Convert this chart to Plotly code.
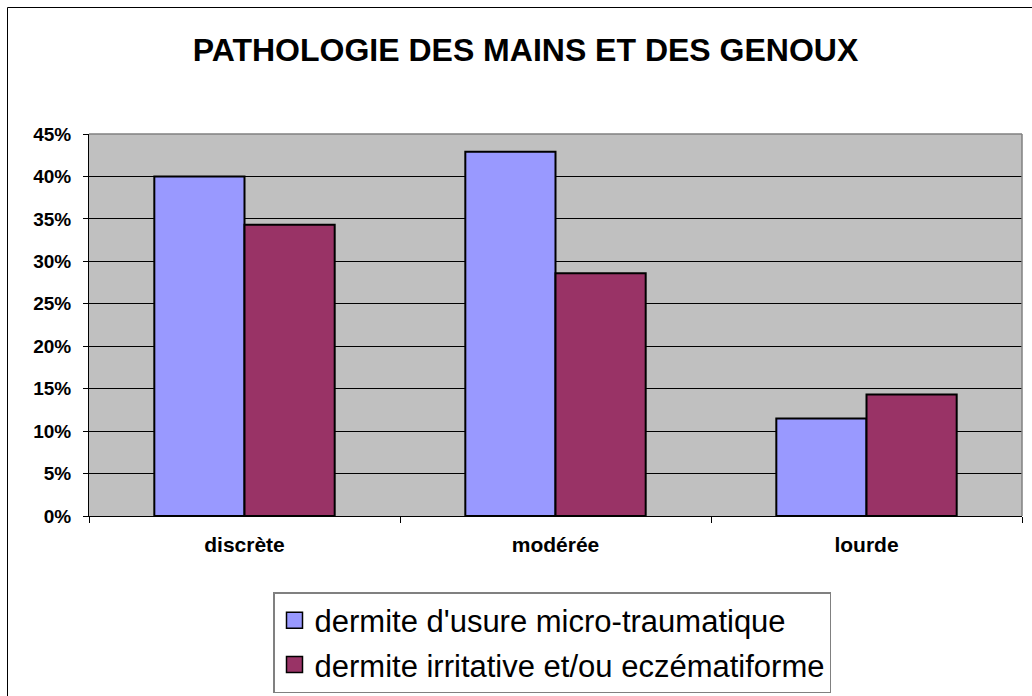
import plotly.graph_objects as go

categories = ["discrète", "modérée", "lourde"]
series_names = ["dermite d'usure micro-traumatique", "dermite irritative et/ou eczématiforme"]
usure = [0.400, 0.429, 0.115]
irritative = [0.343, 0.286, 0.143]
colors = ["#9999FF", "#993366"]
y_ticks = [0, 0.05, 0.10, 0.15, 0.20, 0.25, 0.30, 0.35, 0.40, 0.45]

FONT = "Liberation Sans, Arial, sans-serif"
W, H = 1032, 696
L, R, T, B = 89, 10, 134, 180

fig = go.Figure()
for name, vals, col, grp in zip(series_names, [usure, irritative], colors, ["a", "b"]):
    fig.add_trace(go.Bar(
        x=categories, y=vals, name=name, legendgroup=grp, showlegend=False,
        marker=dict(color=col, line=dict(color="black", width=2)),
    ))
    # legend entry with a larger square swatch
    fig.add_trace(go.Scatter(
        x=[None], y=[None], mode="markers", name=name, legendgroup=grp, showlegend=True,
        marker=dict(symbol="square", size=16, color=col, line=dict(color="black", width=1.5)),
    ))

pw = W - L - R
ph = H - T - B
def px_x(v):
    return (v - L) / pw
def px_y(v):
    return (H - B - v) / ph

shapes = [
    # outer chart frame
    dict(type="rect", xref="paper", yref="paper", x0=px_x(7.5), x1=px_x(1040), y0=px_y(710), y1=px_y(7.5),
         line=dict(color="black", width=1), layer="above"),
    # plot area top and right border
    dict(type="line", xref="paper", yref="paper", x0=0, x1=1, y0=1, y1=1, line=dict(color="#808080", width=1.5)),
    dict(type="line", xref="paper", yref="paper", x0=1, x1=1, y0=0, y1=1, line=dict(color="#808080", width=1.5)),
]

fig.update_layout(
    width=W, height=H,
    margin=dict(l=L, r=R, t=T, b=B, autoexpand=False),
    template="none",
    paper_bgcolor="white",
    plot_bgcolor="#C0C0C0",
    font=dict(family=FONT, color="black"),
    barmode="group", bargap=0.42, bargroupgap=0,
    title=dict(text="<b>PATHOLOGIE DES MAINS ET DES GENOUX</b>", font=dict(size=32, family=FONT, color="black"),
               x=525.5 / W, xref="container", xanchor="center", y=1 - 50 / H, yref="container", yanchor="middle"),
    legend=dict(
        x=273 / W, y=1 - 592 / H, xref="container", yref="container", xanchor="left", yanchor="top",
        bgcolor="white", bordercolor="#808080", borderwidth=1.5,
        font=dict(size=31, family=FONT, color="black"),
        traceorder="grouped", tracegroupgap=1, itemwidth=30,
    ),
    xaxis=dict(
        type="category", showgrid=False, showline=True, linecolor="black", linewidth=1,
        ticks="outside", tickson="boundaries", ticklen=6, tickcolor="black",
        tickfont=dict(size=21, family=FONT, color="black", weight="bold"),
        ticklabelstandoff=10, automargin=False,
    ),
    yaxis=dict(
        range=[0, 0.45], tickvals=y_ticks, tickformat=".0%",
        showgrid=True, gridcolor="black", gridwidth=1, zeroline=False,
        showline=True, linecolor="black", linewidth=1,
        ticks="outside", ticklen=5, tickcolor="black",
        tickfont=dict(size=19, family=FONT, color="black", weight="bold"),
        ticklabelstandoff=8, automargin=False,
    ),
    shapes=shapes,
)

fig.write_html("out.html", config={"displayModeBar": False},
               post_script="document.body.style.margin='0px';")
